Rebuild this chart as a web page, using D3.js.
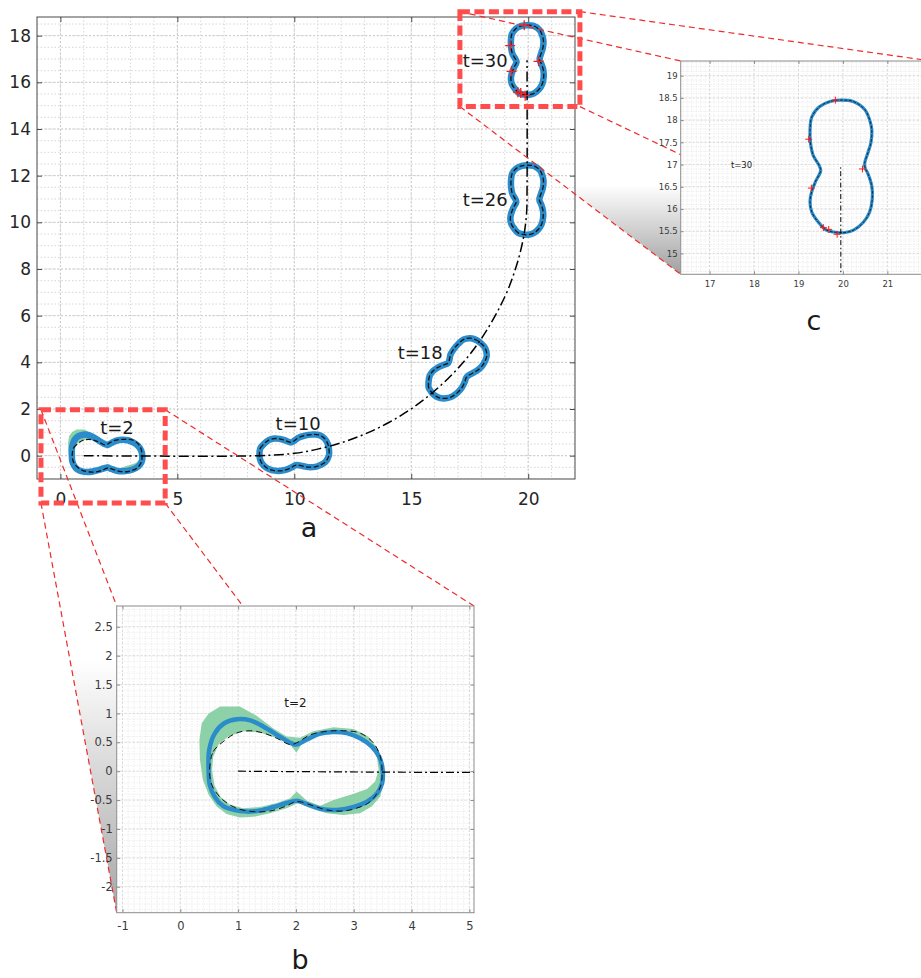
<!DOCTYPE html>
<html>
<head>
<meta charset="utf-8">
<script src="https://cdn.jsdelivr.net/npm/d3@7"></script>
<style>
  html, body { margin: 0; padding: 0; background: #fff; }
  svg { display: block; font-family: "DejaVu Sans", sans-serif; }
</style>
</head>
<body>
<svg id="fig" width="921" height="978"></svg>
<script>
// ---------------- data ----------------
// snapshots of the body along its path
const times      = [2, 10, 18, 26, 30];
const centerX    = [2, 10, 16.97, 19.95, 19.96];
const centerY    = [0, 0.12, 3.72, 10.96, 16.96];
const headingDeg = [0, 6, 47, 89, 90];

// snapshot labels in the overview axes
const labelX = [1.7, 9.2, 14.42, 17.2, 17.2];
const labelY = [1.19, 1.36, 4.44, 10.96, 16.92];

// reference outline in the body frame (u along the long axis, v across it)
const outlineU = [-1.49, -1.43, -1.26, -1.03, -0.79, -0.56, -0.33, -0.10, 0.01, 0.25, 0.53, 0.82, 1.11, 1.34, 1.46, 1.49,
                  1.46, 1.28, 1.05, 0.82, 0.53, 0.30, 0.07, -0.04, -0.16, -0.45, -0.74, -1.03, -1.26, -1.43, -1.49];
const outlineV = [0.08, 0.34, 0.51, 0.66, 0.70, 0.66, 0.57, 0.46, 0.49, 0.63, 0.69, 0.70, 0.66, 0.49, 0.25, 0.02,
                  -0.27, -0.53, -0.64, -0.69, -0.67, -0.60, -0.53, -0.54, -0.60, -0.69, -0.70, -0.64, -0.50, -0.29, -0.09];

// estimated outline at t=2 (world coordinates)
const est2X = [0.49, 0.50, 0.60, 0.76, 0.98, 1.21, 1.44, 1.67, 1.87, 2.01, 2.19, 2.42, 2.65, 2.88, 3.11, 3.31, 3.45,
               3.50, 3.49, 3.40, 3.23, 3.00, 2.71, 2.42, 2.19, 2.01, 1.84, 1.61, 1.38, 1.15, 0.92, 0.74, 0.60, 0.51];
const est2Y = [0.02, 0.37, 0.66, 0.83, 0.90, 0.88, 0.77, 0.63, 0.51, 0.46, 0.55, 0.65, 0.68, 0.66, 0.57, 0.43, 0.23,
               0.02, -0.21, -0.39, -0.53, -0.62, -0.67, -0.65, -0.57, -0.51, -0.55, -0.62, -0.68, -0.70, -0.67, -0.60, -0.45, -0.24];

// uncertainty band at t=2: outer and inner boundaries
const bandOuterX = [0.33, 0.37, 0.49, 0.69, 1.03, 1.32, 1.61, 1.84, 2.07, 2.30, 2.65, 3.00, 3.25, 3.43, 3.51, 3.51,
                    3.46, 3.31, 3.11, 2.82, 2.53, 2.25, 2.04, 1.84, 1.55, 1.26, 1.03, 0.80, 0.63, 0.49, 0.39, 0.34];
const bandOuterY = [0.54, 0.83, 1.00, 1.12, 1.12, 0.96, 0.74, 0.60, 0.58, 0.69, 0.76, 0.73, 0.60, 0.37, 0.08, -0.21,
                    -0.44, -0.61, -0.73, -0.76, -0.73, -0.64, -0.55, -0.64, -0.73, -0.79, -0.80, -0.74, -0.61, -0.41, -0.15, 0.20];
const bandInnerX = [0.57, 0.66, 0.83, 1.09, 1.38, 1.67, 1.90, 2.01, 2.10, 2.36, 2.71, 3.05, 3.28, 3.40, 3.43,
                    3.37, 3.23, 3.00, 2.65, 2.42, 2.19, 2.01, 1.90, 1.67, 1.38, 1.09, 0.86, 0.69, 0.59, 0.55];
const bandInnerY = [0.25, 0.46, 0.60, 0.69, 0.67, 0.57, 0.46, 0.32, 0.47, 0.61, 0.66, 0.60, 0.46, 0.25, 0.02,
                    -0.18, -0.31, -0.39, -0.50, -0.60, -0.51, -0.35, -0.47, -0.55, -0.62, -0.64, -0.58, -0.44, -0.24, 0.02];

// path followed by the body centre
const trajX = [1, 8.5, 10, 11, 12, 13, 14, 15, 16, 17, 18, 19, 19.5, 19.8, 19.93, 19.95, 19.95];
const trajY = [0, 0, 0.1, 0.28, 0.55, 0.92, 1.4, 2.01, 2.78, 3.75, 5.02, 6.81, 8.15, 9.36, 10.4, 11.5, 16.95];

// boundary measurements at t=30
const measX = [19.83, 19.23, 20.44, 19.29, 19.56, 19.68, 19.87];
const measY = [18.45, 17.57, 16.90, 16.47, 15.58, 15.54, 15.43];

// tick values
const mainXTicks = [0, 5, 10, 15, 20];
const mainYTicks = [0, 2, 4, 6, 8, 10, 12, 14, 16, 18];
const bXTicks = [-1, 0, 1, 2, 3, 4, 5];
const bYTicks = [-2, -1.5, -1, -0.5, 0, 0.5, 1, 1.5, 2, 2.5];
const cXTicks = [17, 18, 19, 20, 21];
const cYTicks = [15, 15.5, 16, 16.5, 17, 17.5, 18, 18.5, 19];

// ---------------- drawing ----------------
const svg = d3.select("#fig");
svg.append("rect").attr("width", 921).attr("height", 978).attr("fill", "#fff");
const defs = svg.append("defs");

const BLUE = "#2b8ccb";
const GREEN = "#80cc9f";
const fmt = d => String(d);

const panels = {
  main: { left: 37, top: 17, right: 575, bottom: 479, xDom: [-1, 22], yDom: [-1, 18.8],
          xTicks: mainXTicks, yTicks: mainYTicks, xMinor: 1, yMinor: 0.5, xMajor: 5, yMajor: 2,
          font: 17, xPad: 14, yPad: 6, tick: 5, frame: "#4a4a4a", tickText: "#262626",
          blueW: 6.5, dashW: 1.3, dash: "5,2.5", trajW: 1.5, trajDash: "10,3.5,2,3.5",
          plus: 5, plusW: 1.3, labelSize: 18,
          labels: times.map((t, i) => ({ t, x: labelX[i], y: labelY[i] })) },
  b:    { left: 116.7, top: 606, right: 474, bottom: 912.7, xDom: [-1.1, 5.08], yDom: [-2.45, 2.86],
          xTicks: bXTicks, yTicks: bYTicks, xMinor: 0.1, yMinor: 0.1, xMajor: 1, yMajor: 0.5,
          font: 11.5, xPad: 9, yPad: 4, tick: 3.5, frame: "#8c8c8c", tickText: "#3a3a3a",
          blueW: 4.5, dashW: 1, dash: "6,4", trajW: 1.2, trajDash: "8,3,2,3",
          plus: 4, plusW: 1, labelSize: 12,
          labels: [{ t: times[0], x: 1.8, y: 1.18 }] },
  c:    { left: 680.7, top: 61, right: 931.8, bottom: 274.3, xDom: [16.35, 22.0], yDom: [14.53, 19.33],
          xTicks: cXTicks, yTicks: cYTicks, xMinor: 0.1, yMinor: 0.1, xMajor: 1, yMajor: 0.5,
          font: 8.5, xPad: 7, yPad: 3, tick: 3, frame: "#8c8c8c", tickText: "#3a3a3a",
          blueW: 3.2, dashW: 0.8, dash: "3,1.5", trajW: 1, trajDash: "5,2.5,1.5,2.5",
          plus: 3.5, plusW: 1, labelSize: 8.5,
          labels: [{ t: times[4], x: 17.48, y: 16.99 }] }
};
for (const k in panels) {
  const p = panels[k];
  p.x = d3.scaleLinear().domain(p.xDom).range([p.left, p.right]);
  p.y = d3.scaleLinear().domain(p.yDom).range([p.bottom, p.top]);
}

// snapshot outline in world coordinates
function snapshot(i) {
  const a = headingDeg[i] * Math.PI / 180, c = Math.cos(a), s = Math.sin(a);
  return outlineU.map((u, j) => [centerX[i] + u * c - outlineV[j] * s,
                                 centerY[i] + u * s + outlineV[j] * c]);
}
const zip = (xs, ys) => xs.map((v, i) => [v, ys[i]]);

function range(d0, d1, step) {
  const a = Math.ceil(d0 / step - 1e-9), b = Math.floor(d1 / step + 1e-9);
  return d3.range(a, b + 1).map(i => +(i * step).toFixed(6));
}

// zoom call-out frames (overview data coordinates)
const callouts = [
  { box: { x0: -0.83, x1: 4.48, y0: -2.03, y1: 1.97 }, inset: panels.b, grad: [660, 912.7], gMax: 0.75 },
  { box: { x0: 17.08, x1: 22.21, y0: 14.96, y1: 19.03 }, inset: panels.c, grad: [185, 274.3], gMax: 0.8 }
];
const M = panels.main;
callouts.forEach((co, i) => {
  const b = co.box;
  co.px = { l: M.x(b.x0), r: M.x(b.x1), t: M.y(b.y1), b: M.y(b.y0) };
  const ip = co.inset;
  // shaded side face between the frame and the inset
  const gid = "face" + i;
  const lg = defs.append("linearGradient").attr("id", gid)
    .attr("gradientUnits", "userSpaceOnUse")
    .attr("x1", 0).attr("x2", 0).attr("y1", co.grad[0]).attr("y2", co.grad[1]);
  lg.append("stop").attr("offset", 0).attr("stop-color", "#888").attr("stop-opacity", 0);
  lg.append("stop").attr("offset", 1).attr("stop-color", "#888").attr("stop-opacity", co.gMax);
  svg.append("polygon")
    .attr("points", [[co.px.l, co.px.t], [ip.left, ip.top], [ip.left, ip.bottom], [co.px.l, co.px.b]].join(" "))
    .attr("fill", `url(#${gid})`);
});

function drawPanel(key) {
  const p = panels[key];
  const g = svg.append("g");
  g.append("rect").attr("x", p.left).attr("y", p.top)
    .attr("width", p.right - p.left).attr("height", p.bottom - p.top).attr("fill", "#fff");

  defs.append("clipPath").attr("id", "clip-" + key)
    .append("rect").attr("x", p.left).attr("y", p.top)
    .attr("width", p.right - p.left).attr("height", p.bottom - p.top);
  const inner = g.append("g").attr("clip-path", `url(#clip-${key})`);

  // grid: minor then major, dotted
  const minorX = range(p.xDom[0], p.xDom[1], p.xMinor), minorY = range(p.yDom[0], p.yDom[1], p.yMinor);
  const majorX = range(p.xDom[0], p.xDom[1], p.xMajor), majorY = range(p.yDom[0], p.yDom[1], p.yMajor);
  const fine = key !== "main";
  const gridG = inner.append("g");
  const gl = (vals, vertical, stroke, w, dash) => gridG.selectAll(null).data(vals).join("line")
    .attr("x1", d => vertical ? p.x(d) : p.left).attr("x2", d => vertical ? p.x(d) : p.right)
    .attr("y1", d => vertical ? p.top : p.y(d)).attr("y2", d => vertical ? p.bottom : p.y(d))
    .attr("stroke", stroke).attr("stroke-width", w).attr("stroke-dasharray", dash);
  gl(minorX, true, fine ? "#e0e0e0" : "#d6d6d6", fine ? 0.7 : 1, fine ? "1,1.5" : "1.5,2");
  gl(minorY, false, fine ? "#e0e0e0" : "#d6d6d6", fine ? 0.7 : 1, fine ? "1,1.5" : "1.5,2");
  gl(majorX, true, fine ? "#d2d2d2" : "#cccccc", fine ? 0.8 : 1, "2,2");
  gl(majorY, false, fine ? "#d2d2d2" : "#cccccc", fine ? 0.8 : 1, "2,2");

  const lineOpen = d3.line().x(d => p.x(d[0])).y(d => p.y(d[1]));
  const lineSmooth = d3.line().x(d => p.x(d[0])).y(d => p.y(d[1])).curve(d3.curveCatmullRomClosed.alpha(0.5));
  const lineTraj = d3.line().x(d => p.x(d[0])).y(d => p.y(d[1])).curve(d3.curveCatmullRom.alpha(0.5));

  // uncertainty band
  const ringOuter = lineOpen(zip(bandOuterX, bandOuterY)) + "Z";
  const ringInner = lineOpen(zip(bandInnerX, bandInnerY)) + "Z";
  inner.append("path").attr("d", ringOuter + ringInner)
    .attr("fill", GREEN).attr("fill-rule", "evenodd").attr("opacity", 0.9);

  // estimated outlines
  times.forEach((t, i) => {
    const pts = i === 0 ? zip(est2X, est2Y) : snapshot(i);
    inner.append("path").attr("d", lineSmooth(pts))
      .attr("fill", "none").attr("stroke", BLUE).attr("stroke-width", p.blueW)
      .attr("stroke-linejoin", "round");
  });
  // reference outlines
  times.forEach((t, i) => {
    inner.append("path").attr("d", lineSmooth(snapshot(i)))
      .attr("fill", "none").attr("stroke", "#111").attr("stroke-width", p.dashW)
      .attr("stroke-dasharray", p.dash);
  });

  // centre path
  inner.append("path").attr("d", lineTraj(zip(trajX, trajY)))
    .attr("fill", "none").attr("stroke", "#000").attr("stroke-width", p.trajW)
    .attr("stroke-dasharray", p.trajDash);

  // measurements
  inner.selectAll(null).data(zip(measX, measY)).join("path")
    .attr("d", d => {
      const cx = p.x(d[0]), cy = p.y(d[1]), s = p.plus;
      return `M${cx - s},${cy}H${cx + s}M${cx},${cy - s}V${cy + s}`;
    })
    .attr("stroke", "#ff1a1a").attr("stroke-width", p.plusW).attr("fill", "none");

  // snapshot labels
  inner.selectAll(null).data(p.labels).join("text")
    .attr("x", d => p.x(d.x)).attr("y", d => p.y(d.y)).attr("dy", "0.36em")
    .attr("font-size", p.labelSize).attr("fill", "#1a1a1a")
    .text(d => `t=${d.t}`);

  // axes with inward ticks on all four sides
  const styleAxis = sel => {
    sel.select(".domain").remove();
    sel.selectAll(".tick line").attr("stroke", p.frame);
    sel.selectAll(".tick text").attr("fill", p.tickText).attr("font-size", p.font)
      .attr("font-family", "DejaVu Sans, sans-serif");
  };
  g.append("g").attr("transform", `translate(0,${p.bottom})`)
    .call(d3.axisBottom(p.x).tickValues(p.xTicks).tickSizeInner(-p.tick).tickSizeOuter(0)
      .tickPadding(p.xPad).tickFormat(fmt)).call(styleAxis);
  g.append("g").attr("transform", `translate(${p.left},0)`)
    .call(d3.axisLeft(p.y).tickValues(p.yTicks).tickSizeInner(-p.tick).tickSizeOuter(0)
      .tickPadding(p.yPad).tickFormat(fmt)).call(styleAxis);
  g.append("g").attr("transform", `translate(0,${p.top})`)
    .call(d3.axisTop(p.x).tickValues(p.xTicks).tickSizeInner(-p.tick).tickSizeOuter(0)
      .tickFormat("")).call(styleAxis);
  g.append("g").attr("transform", `translate(${p.right},0)`)
    .call(d3.axisRight(p.y).tickValues(p.yTicks).tickSizeInner(-p.tick).tickSizeOuter(0)
      .tickFormat("")).call(styleAxis);

  g.append("rect").attr("x", p.left).attr("y", p.top)
    .attr("width", p.right - p.left).attr("height", p.bottom - p.top)
    .attr("fill", "none").attr("stroke", p.frame).attr("stroke-width", 1);
}

drawPanel("main");

// connector lines from each frame corner to the matching inset corner
callouts.forEach(co => {
  const ip = co.inset, q = co.px;
  const pairs = [
    [[q.l, q.t], [ip.left, ip.top]], [[q.r, q.t], [ip.right, ip.top]],
    [[q.l, q.b], [ip.left, ip.bottom]], [[q.r, q.b], [ip.right, ip.bottom]]
  ];
  svg.append("g").selectAll("line").data(pairs).join("line")
    .attr("x1", d => d[0][0]).attr("y1", d => d[0][1])
    .attr("x2", d => d[1][0]).attr("y2", d => d[1][1])
    .attr("stroke", "#f02a2a").attr("stroke-width", 1.2).attr("stroke-dasharray", "6,4");
});
// zoom frames
callouts.forEach(co => {
  const q = co.px;
  svg.append("rect").attr("x", q.l).attr("y", q.t).attr("width", q.r - q.l).attr("height", q.b - q.t)
    .attr("fill", "none").attr("stroke", "#ff4d4d").attr("stroke-width", 5)
    .attr("stroke-dasharray", "10,4.5");
});

drawPanel("b");
drawPanel("c");

// panel letters
svg.append("g").attr("font-size", 27).attr("fill", "#1a1a1a").attr("text-anchor", "middle")
  .selectAll("text")
  .data([{ s: "a", x: 309, y: 537 }, { s: "b", x: 300, y: 969 }, { s: "c", x: 814, y: 330 }])
  .join("text").attr("x", d => d.x).attr("y", d => d.y).text(d => d.s);
</script>
</body>
</html>
